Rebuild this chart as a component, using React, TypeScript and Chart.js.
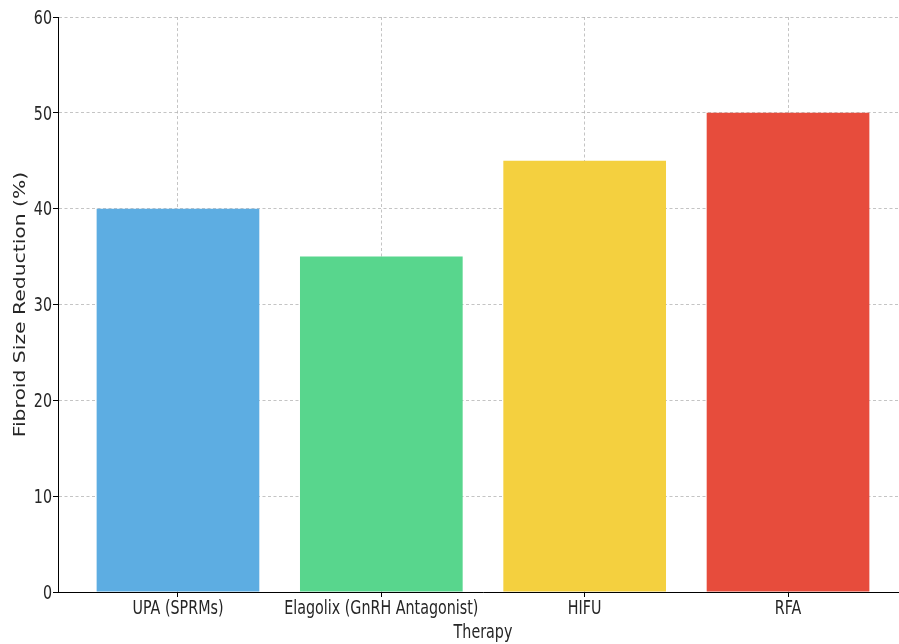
import React, { useEffect, useRef } from "react";
import { Chart, registerables } from "chart.js";

Chart.register(...registerables);

const categories = ["UPA (SPRMs)", "Elagolix (GnRH Antagonist)", "HIFU", "RFA"];
const reductionValues = [40, 35, 45, 50];
const barColors = ["#5DADE2", "#58D68D", "#F4D03F", "#E74C3C"];
const yTicks = [0, 10, 20, 30, 40, 50, 60];
const xTitle = "Therapy";
const yTitle = "Fibroid Size Reduction (%)";

const FONT = "'DejaVu Sans', sans-serif";
const TEXT_COLOR = "#262626";
const STRETCH_Y = 1.3;

const stretchedTextPlugin = {
  id: "stretchedText",
  afterDraw(chart: any) {
    const ctx = chart.ctx as CanvasRenderingContext2D;
    const xs = chart.scales.x;
    const ys = chart.scales.y;
    ctx.save();
    ctx.fillStyle = TEXT_COLOR;
    ctx.textBaseline = "alphabetic";

    // x tick labels
    ctx.font = `14.3px ${FONT}`;
    ctx.textAlign = "center";
    categories.forEach((c, i) => {
      const x = xs.getPixelForValue(i);
      ctx.save();
      ctx.translate(x, xs.top + 22);
      ctx.scale(1, STRETCH_Y);
      ctx.fillText(c, 0, 0);
      ctx.restore();
    });

    // x title
    ctx.save();
    ctx.translate((chart.chartArea.left + chart.chartArea.right) / 2, xs.top + 46);
    ctx.scale(1, STRETCH_Y);
    ctx.fillText(xTitle, 0, 0);
    ctx.restore();

    // y tick labels
    ctx.textAlign = "right";
    yTicks.forEach((v) => {
      const y = ys.getPixelForValue(v);
      ctx.save();
      ctx.translate(ys.right - 6, y + 6.8);
      ctx.scale(1, STRETCH_Y);
      ctx.fillText(String(v), 0, 0);
      ctx.restore();
    });

    // y title
    ctx.font = `16px ${FONT}`;
    ctx.textAlign = "center";
    ctx.save();
    ctx.translate(25, (chart.chartArea.top + chart.chartArea.bottom) / 2);
    ctx.rotate(-Math.PI / 2);
    ctx.scale(1.27, 1);
    ctx.fillText(yTitle, 0, 0);
    ctx.restore();

    ctx.restore();
  },
};

export default function App() {
  const ref = useRef<HTMLCanvasElement | null>(null);

  useEffect(() => {
    if (!ref.current) return;
    const gridColor = "rgba(165,165,165,0.65)";
    const gridOpts = {
      color: gridColor,
      lineWidth: 1,
      tickColor: "#000",
      tickLength: 5,
      tickWidth: 1,
      tickBorderDash: [],
      offset: false,
    };
    const chart = new Chart(ref.current, {
      type: "bar",
      data: {
        datasets: [
          {
            data: reductionValues.map((v, i) => ({ x: i, y: v })),
            backgroundColor: barColors,
            borderWidth: 0,
            categoryPercentage: 1,
            barPercentage: 0.8,
          },
        ],
      },
      options: {
        responsive: false,
        animation: false,
        layout: { padding: { top: 17, left: 0, right: 0, bottom: 0 } },
        plugins: { legend: { display: false }, tooltip: { enabled: false } },
        scales: {
          x: {
            type: "linear",
            min: -0.59,
            max: 3.59,
            offset: false,
            z: 1,
            afterBuildTicks: (scale: any) => {
              scale.ticks = categories.map((_, i) => ({ value: i }));
            },
            afterFit: (scale: any) => {
              scale.height = 52;
            },
            grid: gridOpts,
            border: { display: true, color: "#000", width: 1, dash: [3, 2.5] },
            ticks: { display: false },
            title: { display: false },
          },
          y: {
            min: 0,
            max: 60,
            z: 1,
            afterBuildTicks: (scale: any) => {
              scale.ticks = yTicks.map((v) => ({ value: v }));
            },
            afterFit: (scale: any) => {
              scale.width = 58;
            },
            grid: gridOpts,
            border: { display: true, color: "#000", width: 1, dash: [3, 2.5] },
            ticks: { display: false },
            title: { display: false },
          },
        },
      },
      plugins: [stretchedTextPlugin],
    } as any);
    return () => chart.destroy();
  }, []);

  return (
    <div
      style={{
        position: "fixed",
        left: 0,
        top: 0,
        width: 899,
        height: 644,
        overflow: "hidden",
        background: "#fff",
      }}
    >
      <canvas ref={ref} width={908} height={644} style={{ width: 908, height: 644, display: "block" }} />
    </div>
  );
}
